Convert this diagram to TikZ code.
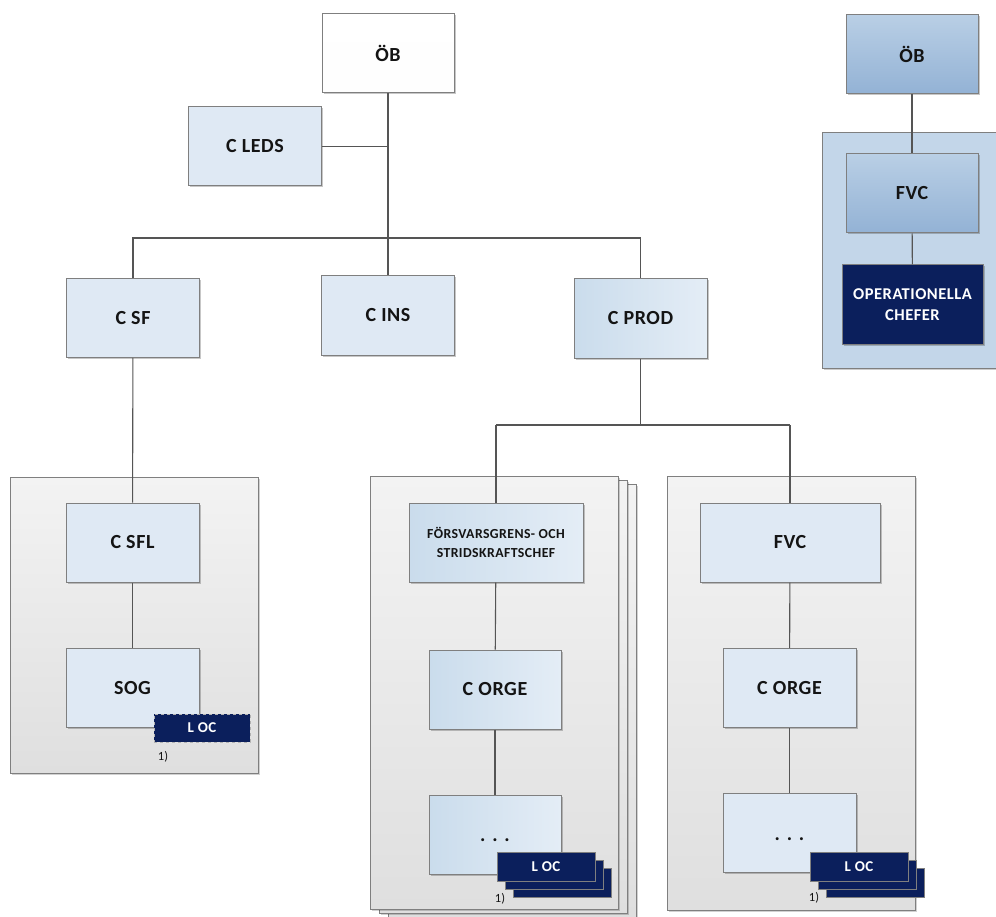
\documentclass[tikz,border=0pt]{standalone}
\usepackage{fontspec}
\setmainfont{Carlito}[LetterSpace=3]
\usetikzlibrary{shadows}
\definecolor{edge}{HTML}{7F7F7F}
\definecolor{wire}{HTML}{555555}
\definecolor{paleblue}{HTML}{DFE9F4}
\definecolor{paleblueA}{HTML}{CADCEC}
\definecolor{paleblueB}{HTML}{E4EDF6}
\definecolor{midblueA}{HTML}{B9CFE5}
\definecolor{midblueB}{HTML}{93B2D5}
\definecolor{panelblue}{HTML}{C3D6E9}
\definecolor{navy}{HTML}{0B1F5C}
\definecolor{greyA}{HTML}{F3F3F3}
\definecolor{greyB}{HTML}{DFDFDF}
\definecolor{ink}{HTML}{141414}
\begin{document}
\begin{tikzpicture}[x=1pt,y=-1pt,
  base/.style={draw=edge, line width=1pt, inner sep=0pt, align=center, text=ink,
    font=\bfseries\fontsize{20}{22}\selectfont},
  shade/.style={drop shadow={shadow xshift=1.5pt, shadow yshift=-1.5pt, fill=black, opacity=0.22}},
  flatbox/.style={base, shade, fill=paleblue, minimum width=133pt, minimum height=79pt},
  gradbox/.style={base, shade, left color=paleblueA, right color=paleblueB, minimum width=133pt, minimum height=79pt},
  whitebox/.style={base, shade, top color=white, bottom color=greyA!90!black!4, minimum width=132pt, minimum height=79pt},
  bluebox/.style={base, shade, top color=midblueA, bottom color=midblueB, minimum width=132pt, minimum height=79pt},
  navybox/.style={base, shade, fill=navy, text=white, font=\bfseries\fontsize{16.5}{21}\selectfont},
  locbox/.style={draw=edge, line width=0.8pt, fill=navy, text=white, inner sep=0pt,
    minimum width=98pt, minimum height=29pt, font=\bfseries\fontsize{15}{17}\selectfont},
  panel/.style={draw=edge, line width=1pt, top color=greyA, bottom color=greyB, inner sep=0pt,
    drop shadow={shadow xshift=1.5pt, shadow yshift=-1.5pt, fill=black, opacity=0.18}},
  wirestyle/.style={draw=wire, line width=1.1pt},
  note/.style={inner sep=0pt, text=ink, font=\fontsize{12.5}{13}\selectfont}
]
\useasboundingbox (0,0) rectangle (996,917);
\fill[white] (0,0) rectangle (996,917);

% ---- panels -------------------------------------------------------------
\node[panel, minimum width=248pt, minimum height=296pt] (panelL) at (134,625) {};
\node[panel, minimum width=248pt, minimum height=433pt] (panelM3) at (512,700.5) {};
\node[panel, minimum width=248pt, minimum height=433pt] (panelM2) at (503,696.5) {};
\node[panel, minimum width=248pt, minimum height=433pt] (panelM) at (494,692.5) {};
\node[panel, minimum width=248pt, minimum height=434pt] (panelR) at (791,693) {};
\node[draw=edge, line width=1pt, fill=panelblue, inner sep=0pt, minimum width=190pt, minimum height=235pt,
  drop shadow={shadow xshift=1.5pt, shadow yshift=-1.5pt, fill=black, opacity=0.2}] (panelB) at (917,250.5) {};

% ---- boxes --------------------------------------------------------------
\node[whitebox] (ob) at (388,53.5) {ÖB};
\node[flatbox] (cleds) at (255,146.5) {C LEDS};
\node[flatbox] (csf) at (133,318) {C SF};
\node[flatbox] (cins) at (388,315.5) {C INS};
\node[gradbox] (cprod) at (640.5,318.5) {C PROD};

\node[flatbox] (csfl) at (132.5,542.5) {C SFL};
\node[flatbox] (sog) at (132.5,688) {SOG};

\node[gradbox, minimum width=174pt, font=\bfseries\fontsize{13.8}{19}\selectfont] (fsc) at (496,542.5)
  {FÖRSVARSGRENS- OCH\\STRIDSKRAFTSCHEF};
\node[gradbox, minimum width=132pt] (corgeM) at (495,689.5) {C ORGE};
\node[gradbox, minimum width=132pt] (dotsM) at (495,834.5) {};

\node[flatbox, minimum width=180pt] (fvc) at (790,542.5) {FVC};
\node[flatbox] (corgeR) at (789.5,688) {C ORGE};
\node[flatbox] (dotsR) at (789.5,833) {};

\node[bluebox] (ob2) at (912,54.5) {ÖB};
\node[bluebox] (fvc2) at (912,193.5) {FVC};
\node[navybox, minimum width=141pt, minimum height=79pt] (opc) at (912.5,304.5)
  {OPERATIONELLA\\CHEFER};

% ---- connectors ---------------------------------------------------------
\coordinate (busL) at (133,238);
\coordinate (busR) at (640.5,238);
\coordinate (bus2) at (640.5,425);
\coordinate (bus2L) at (496,425);
\coordinate (bus2R) at (790,425);

\draw[wirestyle] (ob) -- (cins);
\draw[wirestyle] (cleds.east) -- (cleds.east -| ob.south);
\draw[wirestyle] (csf) -- (busL) -- (busR) -- (cprod);
\draw[wirestyle] (csf) -- (csfl);
\draw[wirestyle] (csfl) -- (sog);
\draw[wirestyle] (cprod) -- (bus2);
\draw[wirestyle] (bus2L) -- (bus2R);
\draw[wirestyle] (bus2L) -- (fsc);
\draw[wirestyle] (bus2R) -- (fvc);
\draw[wirestyle] (fsc) -- (corgeM);
\draw[wirestyle] (corgeM) -- (dotsM);
\draw[wirestyle] (fvc) -- (corgeR);
\draw[wirestyle] (corgeR) -- (dotsR);
\draw[wirestyle] (ob2) -- (fvc2);
\draw[wirestyle] (fvc2) -- (opc);

% ---- dots in the open boxes ---------------------------------------------
\node[anchor=base, inner sep=0pt, text=ink, font=\bfseries\fontsize{20}{22}\selectfont] (dm) at (495,841) {. . .};
\node[anchor=base, inner sep=0pt, text=ink, font=\bfseries\fontsize{20}{22}\selectfont] (dr) at (789.5,840) {. . .};

% ---- local offices ------------------------------------------------------
\node[locbox, draw=edge!60, dashed, line width=1pt, minimum width=96pt, minimum height=28pt] (locA) at (202,728) {L OC};
\node[note] (nA) at (163,757) {1)};

\node[locbox] (locM3) at (562,882.5) {};
\node[locbox] (locM2) at (554,874.5) {};
\node[locbox] (locM) at (546,866.5) {L OC};
\node[note] (nM) at (500,899) {1)};

\node[locbox] (locR3) at (875,882.5) {};
\node[locbox] (locR2) at (867,874.5) {};
\node[locbox] (locR) at (859,866.5) {L OC};
\node[note] (nR) at (814,898) {1)};
\end{tikzpicture}
\end{document}
